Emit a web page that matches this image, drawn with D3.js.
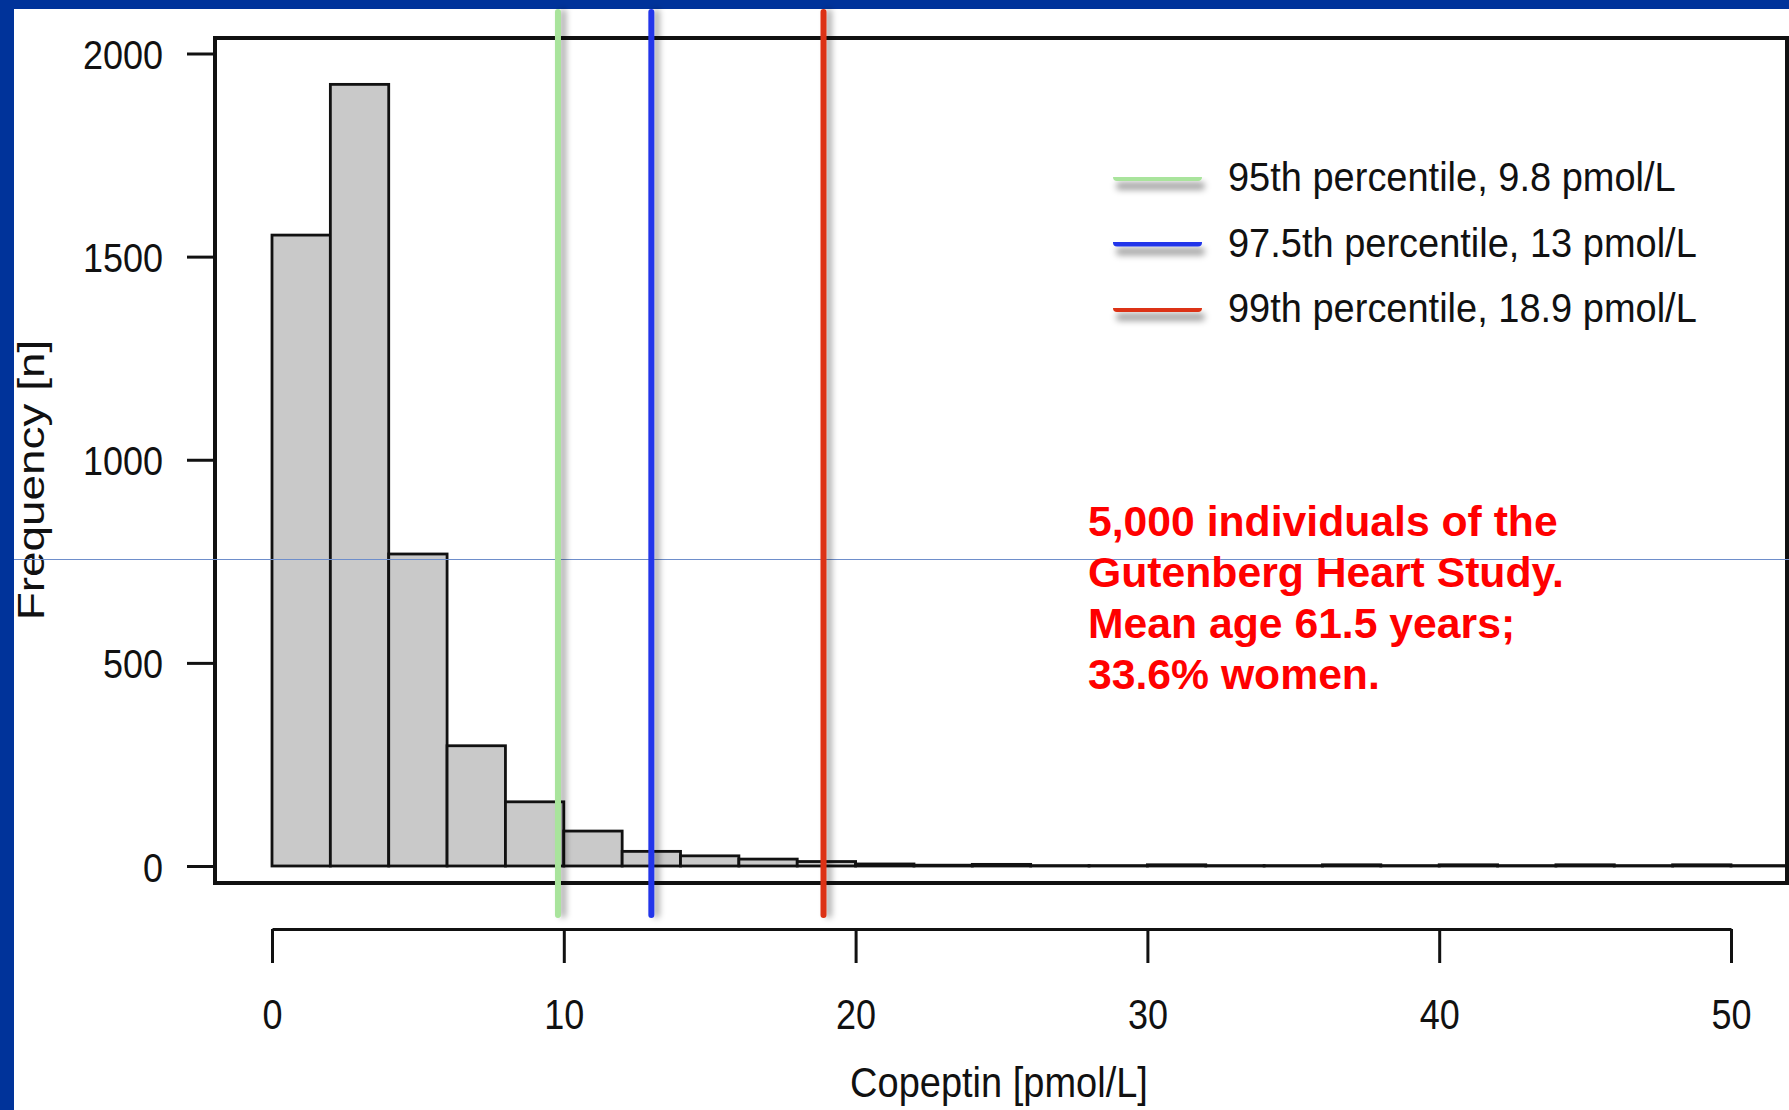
<!DOCTYPE html>
<html>
<head>
<meta charset="utf-8">
<script src="https://cdn.jsdelivr.net/npm/d3@7"></script>
<style>
  body { margin: 0; background: #fff; }
  svg { display: block; font-family: "Liberation Sans", Arial, Helvetica, sans-serif; }
</style>
</head>
<body>
<div id="container"></div>
<script>
// histogram bins (left edge, pmol/L) and counts
var binStarts = [0, 2, 4, 6, 8, 10, 12, 14, 16, 18, 20, 22, 24, 26, 28, 30, 32, 34, 36, 38, 40, 42, 44, 46, 48, 50];
var binEnds   = [2, 4, 6, 8, 10, 12, 14, 16, 18, 20, 22, 24, 26, 28, 30, 32, 34, 36, 38, 40, 42, 44, 46, 48, 50, 52];
var counts    = [1553, 1924, 768, 296, 158, 86, 36, 25, 17, 11, 5, 2, 4, 1, 1, 3, 1, 1, 3, 1, 3, 1, 3, 1, 3, 1];

// percentile lines
var pctNames  = ["95th percentile, 9.8 pmol/L", "97.5th percentile, 13 pmol/L", "99th percentile, 18.9 pmol/L"];
var pctValues = [9.8, 13, 18.9];
var pctColors = ["#a9e49c", "#2236ea", "#dc3212"];

var xTicks = [0, 10, 20, 30, 40, 50];
var yTicks = [0, 500, 1000, 1500, 2000];

var note = ["5,000 individuals of the", "Gutenberg Heart Study.", "Mean age 61.5 years;", "33.6% women."];

var svg_width = 1789,
    svg_height = 1110;

// plot frame
var frame = { left: 215, top: 38, right: 1787, bottom: 883 };

var x = d3.scaleLinear()
    .domain([0, 50])
    .range([272, 1731]);

var y = d3.scaleLinear()
    .domain([0, 2000])
    .range([866, 53.5]);

var svg = d3.select("#container").append("svg")
    .attr("width", svg_width)
    .attr("height", svg_height);

var defs = svg.append("defs");

// shadows (user space, lines have a zero sized bbox)
var sh = defs.append("filter")
    .attr("id", "vshadow")
    .attr("filterUnits", "userSpaceOnUse")
    .attr("x", 0).attr("y", 0).attr("width", svg_width).attr("height", svg_height);
sh.append("feDropShadow")
    .attr("dx", 5).attr("dy", 0).attr("stdDeviation", 3)
    .attr("flood-color", "#000").attr("flood-opacity", 0.35);

var sh2 = defs.append("filter")
    .attr("id", "hshadow")
    .attr("filterUnits", "userSpaceOnUse")
    .attr("x", 0).attr("y", 0).attr("width", svg_width).attr("height", svg_height);
sh2.append("feDropShadow")
    .attr("dx", 3).attr("dy", 9).attr("stdDeviation", 3)
    .attr("flood-color", "#000").attr("flood-opacity", 0.35);

defs.append("clipPath").attr("id", "plotclip")
  .append("rect")
    .attr("x", frame.left)
    .attr("y", frame.top)
    .attr("width", frame.right - frame.left)
    .attr("height", frame.bottom - frame.top);

// slide background
svg.append("rect")
    .attr("width", svg_width).attr("height", svg_height)
    .style("fill", "#fff");
svg.append("rect")
    .attr("width", svg_width).attr("height", 9)
    .style("fill", "#00339a");
svg.append("rect")
    .attr("width", 14).attr("height", svg_height)
    .style("fill", "#00339a");

// bars
var bins = counts.map(function(c, i) { return { x0: binStarts[i], x1: binEnds[i], n: c }; });

svg.append("g")
    .attr("clip-path", "url(#plotclip)")
  .selectAll(".bar")
  .data(bins)
  .enter().append("rect")
    .attr("class", "bar")
    .attr("x", function(d) { return x(d.x0); })
    .attr("width", function(d) { return x(d.x1) - x(d.x0); })
    .attr("y", function(d) { return y(d.n); })
    .attr("height", function(d) { return y(0) - y(d.n); })
    .style("fill", "#c9c9c9")
    .style("stroke", "#111")
    .style("stroke-width", 2.8);

// frame
svg.append("rect")
    .attr("x", frame.left)
    .attr("y", frame.top)
    .attr("width", frame.right - frame.left)
    .attr("height", frame.bottom - frame.top)
    .style("fill", "none")
    .style("stroke", "#111")
    .style("stroke-width", 4);

// y axis
var yAxis = svg.append("g")
    .attr("transform", "translate(" + frame.left + ",0)")
    .call(d3.axisLeft(y).tickValues(yTicks).tickSize(28).tickFormat(d3.format("d")));
yAxis.select(".domain").remove();
yAxis.selectAll("line").style("stroke", "#111").style("stroke-width", 3);
yAxis.selectAll("text")
    .attr("x", 0).attr("dy", null).attr("y", 0)
    .attr("transform", "translate(-52,15) scale(1,1.15)")
    .style("font-size", "36px")
    .style("font-family", "Liberation Sans, Arial, sans-serif")
    .style("fill", "#111");

// x axis (separate, below the frame)
var xAxis = svg.append("g")
    .attr("transform", "translate(0,929)")
    .call(d3.axisBottom(x).tickValues(xTicks).tickSize(34).tickSizeOuter(0));
xAxis.select(".domain").style("stroke", "#111").style("stroke-width", 3);
xAxis.selectAll("line").style("stroke", "#111").style("stroke-width", 3);
xAxis.selectAll("text")
    .attr("y", 0).attr("dy", null)
    .attr("transform", "translate(0,100) scale(1,1.2)")
    .style("font-size", "36px")
    .style("font-family", "Liberation Sans, Arial, sans-serif")
    .style("fill", "#111");

// axis titles
svg.append("text")
    .attr("transform", "translate(999,1097) scale(1,1.1)")
    .attr("text-anchor", "middle")
    .style("font-size", "38px")
    .style("fill", "#111")
    .text("Copeptin [pmol/L]");

svg.append("text")
    .attr("transform", "translate(44,480) scale(1,1.24) rotate(-90)")
    .attr("text-anchor", "middle")
    .style("font-size", "37px")
    .style("fill", "#111")
    .text("Frequency [n]");

// thin guide line of the slide
svg.append("line")
    .attr("x1", 14).attr("x2", svg_width)
    .attr("y1", 559.5).attr("y2", 559.5)
    .style("stroke", "#6e8ecb")
    .style("stroke-width", 1.2);

// percentile lines
svg.selectAll(".pct")
    .data(pctValues)
  .enter().append("line")
    .attr("class", "pct")
    .attr("x1", function(d) { return x(d); })
    .attr("x2", function(d) { return x(d); })
    .attr("y1", 12)
    .attr("y2", 915)
    .attr("filter", "url(#vshadow)")
    .style("stroke", function(_, i) { return pctColors[i]; })
    .style("stroke-width", 6)
    .style("stroke-linecap", "round");

// legend
var legend = svg.selectAll(".legend")
    .data(pctNames)
  .enter().append("g")
    .attr("class", "legend")
    .attr("transform", function(_, i) { return "translate(0," + (177 + i * 65.5) + ")"; });

legend.append("line")
    .attr("x1", 1117).attr("x2", 1198)
    .attr("y1", 0).attr("y2", 0)
    .attr("filter", "url(#hshadow)")
    .style("stroke", function(_, i) { return pctColors[i]; })
    .style("stroke-width", 8)
    .style("stroke-linecap", "round");

legend.append("text")
    .attr("transform", "translate(1228,14) scale(1,1.08)")
    .style("font-size", "38px")
    .style("fill", "#111")
    .text(function(d) { return d; });

// red annotation
svg.selectAll(".note")
    .data(note)
  .enter().append("text")
    .attr("class", "note")
    .attr("x", 1088)
    .attr("y", function(_, i) { return 536 + i * 51; })
    .style("font-size", "42.7px")
    .style("font-weight", "bold")
    .style("fill", "#ff0000")
    .text(function(d) { return d; });
</script>
</body>
</html>
